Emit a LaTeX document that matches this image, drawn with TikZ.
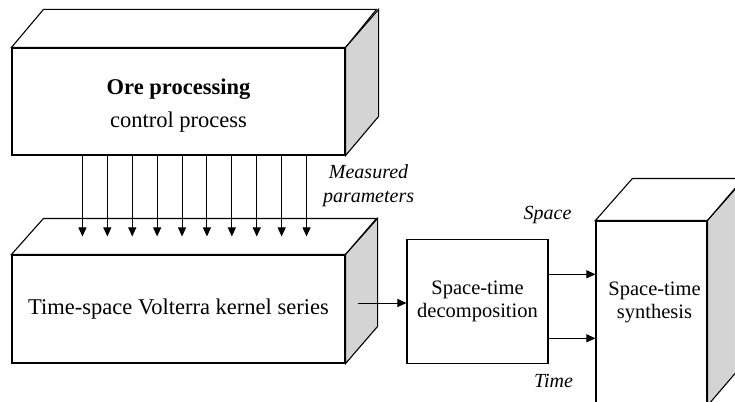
\documentclass[tikz,border=0pt]{standalone}
\usepackage{fontspec}
\setmainfont{Liberation Serif}
\usetikzlibrary{calc, positioning, arrows.meta}

\tikzset{
  topface/.style={draw, line width=1.1pt, fill=white},
  sideface/.style={draw, line width=1.1pt, fill=black!17},
  block/.style={draw, line width=1.1pt, fill=white, inner sep=0pt, align=center},
  flow/.style={line width=1pt, -{Triangle[length=9pt,width=8pt]}},
  lbl/.style={font=\fontsize{20}{24}\selectfont\itshape, align=center, inner sep=0pt}
}

\begin{document}
\begin{tikzpicture}[x=1pt, y=-1pt]
  \useasboundingbox (0,0) rectangle (735,401);
  \clip (0,0) rectangle (735,401);

  % Ore processing box
  \node[block, minimum width=333, minimum height=107] (ore) at (178.5,101.5) {};
  \draw[topface] (ore.north west) -- ++(32,-38) -- ++(333,0) -- (ore.north east) -- cycle;
  \draw[sideface] (ore.north east) -- ++(33,-38) -- ++(0,107) -- (ore.south east) -- cycle;
  \node[font=\fontsize{22.5}{26}\selectfont, align=center, inner sep=0pt] (oretxt) at ($(ore.center)+(0,4)$)
    {\textbf{Ore processing}\\[7pt] control process};

  % Kernel series box
  \node[block, minimum width=333, minimum height=108, font=\fontsize{22.5}{26}\selectfont] (kernel) at (178.5,309)
    {Time-space Volterra kernel series};
  \draw[topface] (kernel.north west) -- ++(32,-36) -- ++(333,0) -- (kernel.north east) -- cycle;
  \draw[sideface] (kernel.north east) -- ++(32,-36) -- ++(0,108) -- (kernel.south east) -- cycle;

  % Measured parameters
  \foreach \x in {0,...,9}
    \draw[flow] ($(ore.south west)+(71+24.9*\x,0)$) -- ($(kernel.north west)+(71+24.9*\x,-18)$);
  \node[lbl] (meas) at ($(ore.south east)+(23,30)$) {Measured\\parameters};

  % Decomposition
  \node[block, minimum width=141, minimum height=124, font=\fontsize{20.5}{23}\selectfont] (dec) at (477.5,301.3)
    {Space-time\\decomposition};
  \coordinate (kout) at ($(kernel.east)+(12,-6)$);
  \draw[flow] (kout) -- (kout -| dec.west);

  % Synthesis box
  \node[block, minimum width=111, minimum height=184] (synth) at (651.5,313) {};
  \draw[topface] (synth.north west) -- ++(37,-42) -- ++(111,0) -- (synth.north east) -- cycle;
  \draw[sideface] (synth.north east) -- ++(37,-42) -- ++(0,184) -- (synth.south east) -- cycle;
  \node[font=\fontsize{20.5}{23}\selectfont, align=center, inner sep=0pt] (synthtxt) at ($(synth.center)+(3,-11)$)
    {Space-time\\synthesis};

  \coordinate (sout) at ($(dec.east)+(0,-27)$);
  \coordinate (tout) at ($(dec.east)+(0,37)$);
  \draw[flow] (sout) -- (sout -| synth.west);
  \draw[flow] (tout) -- (tout -| synth.west);
  \node[lbl] (space) at ($(dec.north east)+(-1,-24)$) {Space};
  \node[lbl] (time) at ($(dec.south east)+(5,17)$) {Time};
\end{tikzpicture}
\end{document}
